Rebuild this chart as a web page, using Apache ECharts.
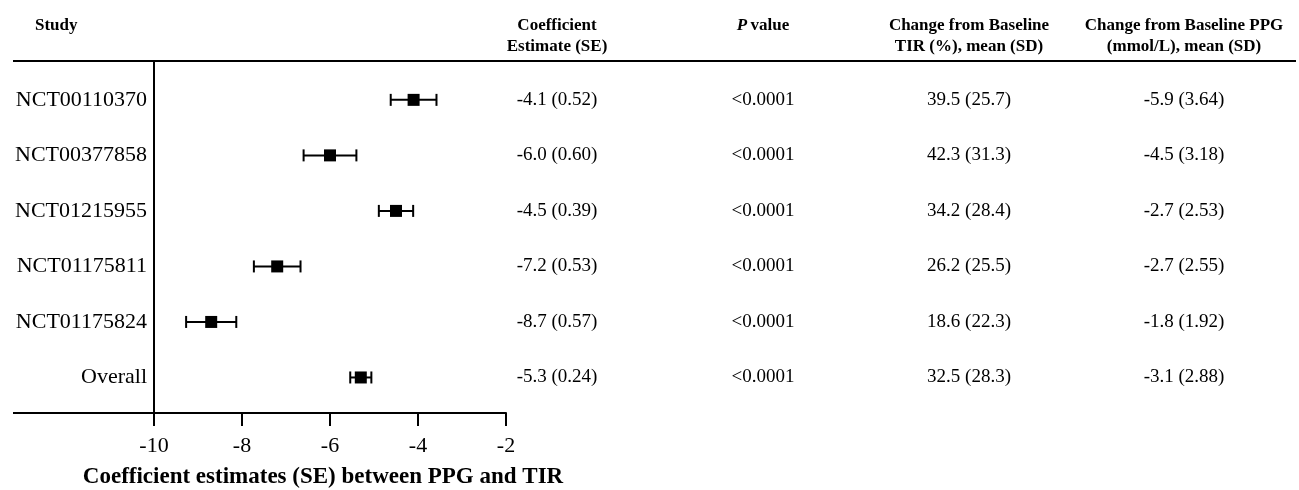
<!DOCTYPE html>
<html>
<head>
<meta charset="utf-8">
<script src="https://cdn.jsdelivr.net/npm/echarts@6/dist/echarts.min.js"></script>
<style>
html,body{margin:0;padding:0;background:#fff;}
#chart{width:1299px;height:490px;}
</style>
</head>
<body>
<div id="chart"></div>
<script>
// ---- data ----
const studies = ['NCT00110370', 'NCT00377858', 'NCT01215955', 'NCT01175811', 'NCT01175824', 'Overall'];
const estimates = [-4.1, -6.0, -4.5, -7.2, -8.7, -5.3];
const stdErrors = [0.52, 0.60, 0.39, 0.53, 0.57, 0.24];
const pValues = ['<0.0001', '<0.0001', '<0.0001', '<0.0001', '<0.0001', '<0.0001'];
const tirMean = [39.5, 42.3, 34.2, 26.2, 18.6, 32.5];
const tirSD = [25.7, 31.3, 28.4, 25.5, 22.3, 28.3];
const ppgMean = [-5.9, -4.5, -2.7, -2.7, -1.8, -3.1];
const ppgSD = [3.64, 3.18, 2.53, 2.55, 1.92, 2.88];
const xTicks = [-10, -8, -6, -4, -2];
const xTitle = 'Coefficient estimates (SE) between PPG and TIR';

// ---- layout (not data) ----
const FONT = '"Liberation Serif", "Times New Roman", serif';
const colX = { label: 147, coef: 557, p: 763, tir: 969, ppg: 1184 };

const chart = echarts.init(document.getElementById('chart'), null, { renderer: 'canvas' });

const rows = studies.map((s, i) => [i + 1, estimates[i], stdErrors[i]]);

const option = {
  backgroundColor: '#fff',
  animation: false,
  grid: { left: 154, right: 793, top: 61, bottom: 77, containLabel: false, outerBoundsMode: 'none' },
  xAxis: {
    type: 'value',
    min: xTicks[0],
    max: xTicks[xTicks.length - 1],
    interval: 2,
    axisLine: { show: true, lineStyle: { color: '#000', width: 2 } },
    axisTick: { show: true, inside: false, length: 13, lineStyle: { color: '#000', width: 2 } },
    axisLabel: { color: '#000', fontFamily: FONT, fontSize: 22, margin: 22 },
    splitLine: { show: false },
    name: xTitle,
    nameLocation: 'middle',
    nameGap: 53,
    nameTextStyle: { color: '#000', fontFamily: FONT, fontSize: 23, fontWeight: 'bold', padding: [0, 14, 0, 0] }
  },
  yAxis: {
    type: 'value',
    inverse: true,
    min: 0.3,
    max: 6.64,
    axisLine: { show: true, lineStyle: { color: '#000', width: 2 } },
    axisTick: { show: false },
    axisLabel: { show: false },
    splitLine: { show: false }
  },
  graphic: [
    { type: 'line', shape: { x1: 13, y1: 61, x2: 1296, y2: 61 }, style: { stroke: '#000', lineWidth: 2 }, z: 10 },
    { type: 'line', shape: { x1: 13, y1: 413, x2: 155, y2: 413 }, style: { stroke: '#000', lineWidth: 2 }, z: 10 },
    { type: 'text', left: 35, top: 17, style: { text: 'Study', font: 'bold 17px ' + FONT, fill: '#000' } },
    { type: 'text', x: colX.coef, y: 15, style: { text: 'Coefficient\nEstimate (SE)', font: 'bold 17px ' + FONT, fill: '#000', align: 'center', verticalAlign: 'top', lineHeight: 21 } },
    { type: 'text', x: colX.p, y: 15, style: {
        text: '{i|P} {b|value}', align: 'center', verticalAlign: 'top', lineHeight: 21,
        rich: { i: { font: 'italic bold 17px ' + FONT, fill: '#000' }, b: { font: 'bold 17px ' + FONT, fill: '#000' } }
      } },
    { type: 'text', x: colX.tir, y: 15, style: { text: 'Change from Baseline\nTIR (%), mean (SD)', font: 'bold 17px ' + FONT, fill: '#000', align: 'center', verticalAlign: 'top', lineHeight: 21 } },
    { type: 'text', x: colX.ppg, y: 15, style: { text: 'Change from Baseline PPG\n(mmol/L), mean (SD)', font: 'bold 17px ' + FONT, fill: '#000', align: 'center', verticalAlign: 'top', lineHeight: 21 } }
  ],
  series: [
    {
      type: 'custom',
      name: 'forest',
      clip: false,
      data: rows,
      encode: { x: 1, y: 0 },
      renderItem: function (params, api) {
        const row = api.value(0);
        const est = api.value(1);
        const se = api.value(2);
        const c = api.coord([est, row]);
        const lo = api.coord([est - se, row]);
        const hi = api.coord([est + se, row]);
        const cap = 6, sq = 12;
        const lineStyle = { stroke: '#000', lineWidth: 2 };
        return {
          type: 'group',
          children: [
            { type: 'line', shape: { x1: lo[0], y1: c[1], x2: hi[0], y2: c[1] }, style: lineStyle },
            { type: 'line', shape: { x1: lo[0], y1: c[1] - cap, x2: lo[0], y2: c[1] + cap }, style: lineStyle },
            { type: 'line', shape: { x1: hi[0], y1: c[1] - cap, x2: hi[0], y2: c[1] + cap }, style: lineStyle },
            { type: 'rect', shape: { x: c[0] - sq / 2, y: c[1] - sq / 2, width: sq, height: sq }, style: { fill: '#000' } }
          ]
        };
      }
    },
    {
      type: 'custom',
      name: 'table',
      clip: false,
      silent: true,
      data: rows,
      encode: { x: 1, y: 0 },
      renderItem: function (params, api) {
        const i = params.dataIndex;
        const row = api.value(0);
        const y = api.coord([estimates[i], row])[1];
        const txt = (x, s, align, size) => ({
          type: 'text', x: x, y: y,
          style: { text: s, font: size + 'px ' + FONT, fill: '#000', align: align, verticalAlign: 'middle' }
        });
        return {
          type: 'group',
          children: [
            txt(colX.label, studies[i], 'right', 22),
            txt(colX.coef, estimates[i].toFixed(1) + ' (' + stdErrors[i].toFixed(2) + ')', 'center', 19),
            txt(colX.p, pValues[i], 'center', 19),
            txt(colX.tir, tirMean[i].toFixed(1) + ' (' + tirSD[i].toFixed(1) + ')', 'center', 19),
            txt(colX.ppg, ppgMean[i].toFixed(1) + ' (' + ppgSD[i].toFixed(2) + ')', 'center', 19)
          ]
        };
      }
    }
  ]
};

chart.setOption(option);
</script>
</body>
</html>
